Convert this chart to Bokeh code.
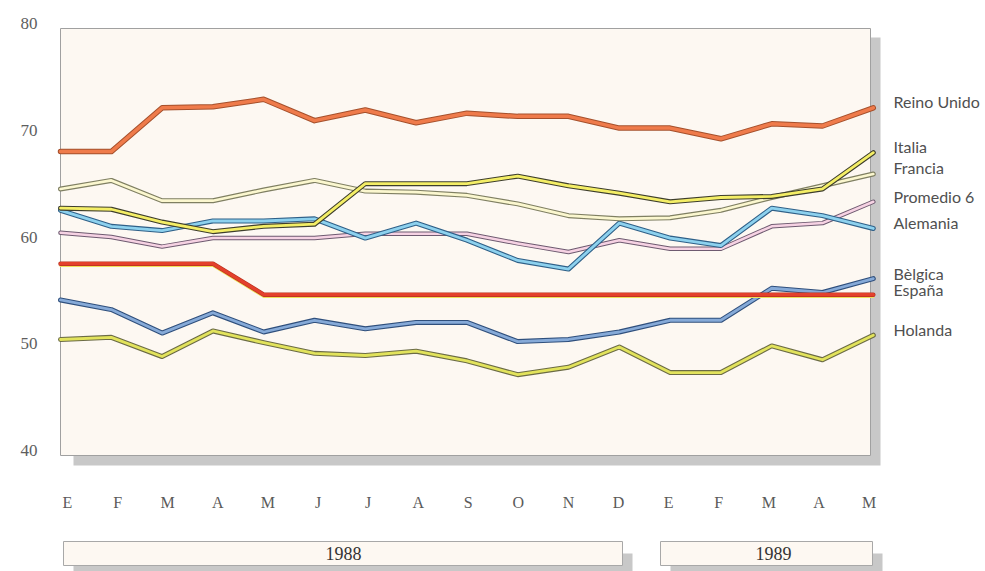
from bokeh.plotting import figure
from bokeh.models import Range1d, FixedTicker, ColumnDataSource
from bokeh.core.properties import value
from bokeh.transform import dodge
from bokeh.embed import file_html
from bokeh.resources import INLINE

# ---------------- data ----------------
months = ["E", "F", "M", "A", "M", "J", "J", "A", "S", "O", "N", "D",
          "E", "F", "M", "A", "M"]
years = ["1988", "1989"]
y_ticks = [40, 50, 60, 70, 80]

reino_unido = [68.0, 68.0, 72.1, 72.2, 72.9, 70.9, 71.9, 70.7, 71.6, 71.3, 71.3,
               70.2, 70.2, 69.2, 70.6, 70.4, 72.1]
italia = [62.7, 62.6, 61.4, 60.5, 61.0, 61.2, 65.0, 65.0, 65.0, 65.7, 64.8,
          64.1, 63.3, 63.7, 63.8, 64.5, 67.9]
francia = [64.5, 65.3, 63.4, 63.4, 64.4, 65.3, 64.3, 64.2, 63.9, 63.1, 62.0,
           61.7, 61.8, 62.5, 63.7, 64.8, 65.9]
promedio6 = [60.4, 60.0, 59.1, 59.9, 59.9, 59.9, 60.3, 60.3, 60.3, 59.4, 58.6,
             59.7, 58.9, 58.9, 61.0, 61.3, 63.3]
alemania = [62.5, 61.0, 60.6, 61.5, 61.5, 61.7, 59.9, 61.3, 59.7, 57.8, 57.0,
            61.3, 59.9, 59.2, 62.7, 62.0, 60.8]
belgica = [54.1, 53.2, 51.0, 52.9, 51.1, 52.2, 51.4, 52.0, 52.0, 50.2, 50.4,
           51.1, 52.2, 52.2, 55.2, 54.8, 56.1]
espana = [57.5, 57.5, 57.5, 57.5, 54.6, 54.6, 54.6, 54.6, 54.6, 54.6, 54.6,
          54.6, 54.6, 54.6, 54.6, 54.6, 54.6]
holanda = [50.4, 50.6, 48.8, 51.2, 50.1, 49.1, 48.9, 49.3, 48.4, 47.1, 47.8,
           49.7, 47.3, 47.3, 49.8, 48.5, 50.8]

series_names = ["Holanda", "Bèlgica", "España", "Promedio 6", "Alemania",
                "Francia", "Italia", "Reino Unido"]
series_values = [holanda, belgica, espana, promedio6, alemania, francia,
                 italia, reino_unido]

# ---------------- styles ----------------
inner_colors = {"Holanda": "#e2e35c", "Bèlgica": "#86aad8", "España": "#e4412c",
                "Promedio 6": "#f6d2e3", "Alemania": "#8dd1ee", "Francia": "#fbf7cf",
                "Italia": "#f4ee66", "Reino Unido": "#ef7b4b"}
outer_colors = {"Holanda": "#6b6b45", "Bèlgica": "#2f4f7c", "España": "#b8301f",
                "Promedio 6": "#6e5a70", "Alemania": "#2f6088", "Francia": "#7f7f62",
                "Italia": "#3e3e2c", "Reino Unido": "#a5502c"}
outer_w = {"Holanda": 5, "Bèlgica": 5, "España": 4.5, "Promedio 6": 4.5,
           "Alemania": 5, "Francia": 5, "Italia": 5, "Reino Unido": 5.5}
inner_w = {"Holanda": 2.8, "Bèlgica": 2.8, "España": 3.2, "Promedio 6": 2.5,
           "Alemania": 2.8, "Francia": 2.7, "Italia": 2.8, "Reino Unido": 3.5}
# label vertical positions (screen layout, pixels in reference)
label_px_y = {"Reino Unido": 101, "Italia": 146, "Francia": 167, "Promedio 6": 196,
              "Alemania": 222, "Bèlgica": 273, "España": 289, "Holanda": 329}

# ---------------- geometry helpers (reference pixel -> data) ----------------
PX_X = 50.8      # px per month
PX_Y = 10.675    # px per unit
def dx(px):
    return (px - 60) / PX_X
def dy(py):
    return 40 + (450 - py) / PX_Y

W, H = 985, 571
LEFT = 52
x0 = dx(LEFT)
x1 = dx(W)
y0 = dy(H)
y1 = dy(0)

p = figure(width=W, height=H, x_range=Range1d(x0, x1), y_range=Range1d(y0, y1),
           output_backend="svg", toolbar_location=None, x_axis_location=None,
           min_border_left=LEFT, min_border_right=0, min_border_top=0,
           min_border_bottom=0, background_fill_color="white",
           border_fill_color="white", outline_line_color=None)
p.xgrid.visible = False
p.ygrid.visible = False

ax = p.yaxis[0]
ax.ticker = FixedTicker(ticks=y_ticks)
ax.axis_line_color = None
ax.major_tick_line_color = None
ax.minor_tick_line_color = None
ax.major_tick_out = 0
ax.major_tick_in = 0
ax.major_label_standoff = 15
ax.major_label_text_font = "Liberation Serif"
ax.major_label_text_font_size = "17px"
ax.major_label_text_color = "#5e5e5e"

# panel shadow + panel
p.quad(left=dx(73), right=dx(880), top=dy(37), bottom=dy(465),
       fill_color="#c8c8c8", line_color=None)
p.quad(left=dx(60), right=dx(870), top=dy(28), bottom=dy(455),
       fill_color="#fdf8f2", line_color="#a0a0a0", line_width=1)

# year boxes
box_px = [(63, 622), (660, 872)]
for (l, r), yr in zip(box_px, years):
    p.quad(left=dx(l + 10), right=dx(r + 10), top=dy(553), bottom=dy(577),
           fill_color="#c8c8c8", line_color=None)
    p.quad(left=dx(l), right=dx(r), top=dy(541), bottom=dy(565),
           fill_color="#fdf8f2", line_color="#a8a8a8", line_width=1)
year_src = ColumnDataSource(dict(x=[dx(343), dx(773)], y=[dy(553)] * 2, t=years))
p.text(x="x", y="y", text="t", source=year_src, text_font=value("Liberation Serif"),
       text_font_size="18px", text_color="#333333", text_align="center",
       text_baseline="middle")

# month labels
idx = list(range(len(months)))
month_src = ColumnDataSource(dict(x=[dx(67 + i * 50.1) for i in idx],
                                  y=[dy(502)] * len(months), t=months))
p.text(x="x", y="y", text="t", source=month_src, text_font=value("Liberation Serif"),
       text_font_size="16px", text_color="#5a5a5a", text_align="center",
       text_baseline="middle")

# series lines
for name, vals in zip(series_names, series_values):
    src = ColumnDataSource(dict(x=idx, y=vals))
    if name == "España":
        p.line(x="x", y=dodge("y", -2.2 / PX_Y), source=src, line_color="#efe05a",
               line_width=2.2, line_join="round", line_cap="round")
    p.line("x", "y", source=src, line_color=outer_colors[name],
           line_width=outer_w[name], line_join="round", line_cap="round")
    p.line("x", "y", source=src, line_color=inner_colors[name],
           line_width=inner_w[name], line_join="round", line_cap="round")

# series labels
lab_src = ColumnDataSource(dict(x=[dx(893)] * len(series_names),
                                y=[dy(label_px_y[n]) for n in series_names],
                                t=series_names))
p.text(x="x", y="y", text="t", source=lab_src, text_font=value("Lato"),
       text_font_size="16px", text_color="#505050", text_align="left",
       text_baseline="middle")

open("out.html", "w").write(file_html(p, INLINE))
